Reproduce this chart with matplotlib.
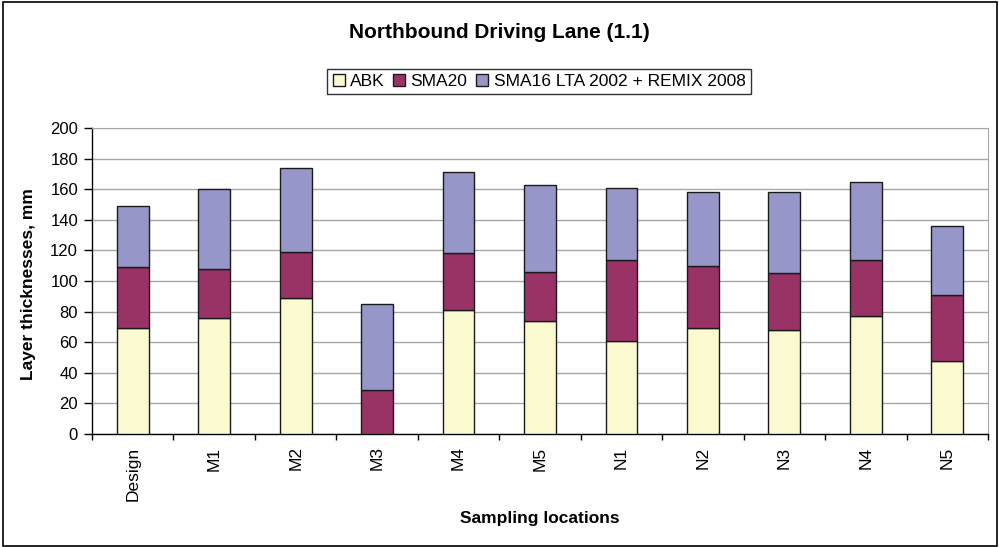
import matplotlib
matplotlib.use("Agg")
import matplotlib.pyplot as plt
from matplotlib.patches import Rectangle
import numpy as np

plt.rcParams['font.family'] = ['Liberation Sans', 'DejaVu Sans']

categories = ["Design", "M1", "M2", "M3", "M4", "M5", "N1", "N2", "N3", "N4", "N5"]
abk = [69, 76, 89, 0, 81, 74, 61, 69, 68, 77, 48]
sma20 = [40, 32, 30, 29, 37, 32, 53, 41, 37, 37, 43]
sma16_remix = [40, 52, 55, 56, 53, 57, 47, 48, 53, 51, 45]
series_names = ["ABK", "SMA20", "SMA16 LTA 2002 + REMIX 2008"]
colors = ["#FAF9D0", "#993366", "#9696C9"]
yticks = list(range(0, 201, 20))

fig = plt.figure(figsize=(9.99, 5.47), dpi=100)
fig.patches.append(Rectangle((0.003, 0.002), 0.995, 0.995, transform=fig.transFigure,
                             fill=False, edgecolor="black", linewidth=1.2))

ax = fig.add_axes([92 / 999, 113 / 547, 896 / 999, 306 / 547])
x = np.arange(len(categories))
width = 0.39
bottom = np.zeros(len(categories))
for name, vals, c in zip(series_names, [abk, sma20, sma16_remix], colors):
    vals = np.array(vals, dtype=float)
    ax.bar(x, vals, width, bottom=bottom, color=c, edgecolor="#1a1a1a",
           linewidth=1.0, label=name, zorder=3)
    bottom += vals

ax.set_xlim(-0.5, len(categories) - 0.5)
ax.set_ylim(0, 200)
ax.set_yticks(yticks)
ax.yaxis.grid(True, color="#a6a6a6", linewidth=1.0, zorder=0)
ax.set_axisbelow(True)

ax.set_xticks(x)
ax.set_xticklabels(categories, rotation=90, fontsize=12.5)
ax.set_xticks(np.arange(-0.5, len(categories), 1), minor=True)
ax.tick_params(axis="x", which="major", length=0, pad=9)
ax.tick_params(axis="x", which="minor", length=4.5, width=1, direction="out")
ax.tick_params(axis="y", length=6, width=1, direction="out", labelsize=12, pad=4)

for side in ["top", "right"]:
    ax.spines[side].set_color("#a6a6a6")
for side in ["left", "bottom"]:
    ax.spines[side].set_color("black")
    ax.spines[side].set_linewidth(1.0)

ax.set_ylabel("Layer thicknesses, mm", fontsize=12.5, fontweight="bold")
ax.yaxis.set_label_coords(-0.0625, 0.49)
ax.set_xlabel("Sampling locations", fontsize=12.5, fontweight="bold")
ax.xaxis.set_label_coords(0.5, -0.25)

fig.text(0.5, 1 - 33 / 547, "Northbound Driving Lane (1.1)", ha="center", va="center",
         fontsize=15, fontweight="bold")

leg = ax.legend(loc="center", bbox_to_anchor=(539 / 999, 1 - 81.5 / 547),
                bbox_transform=fig.transFigure, ncol=3, fontsize=12.5, frameon=True,
                fancybox=False, edgecolor="black", handlelength=0.7, handleheight=0.7,
                handletextpad=0.3, columnspacing=0.5, borderpad=0.3)
leg.get_frame().set_linewidth(1.0)

fig.savefig("out.png", dpi=100)
